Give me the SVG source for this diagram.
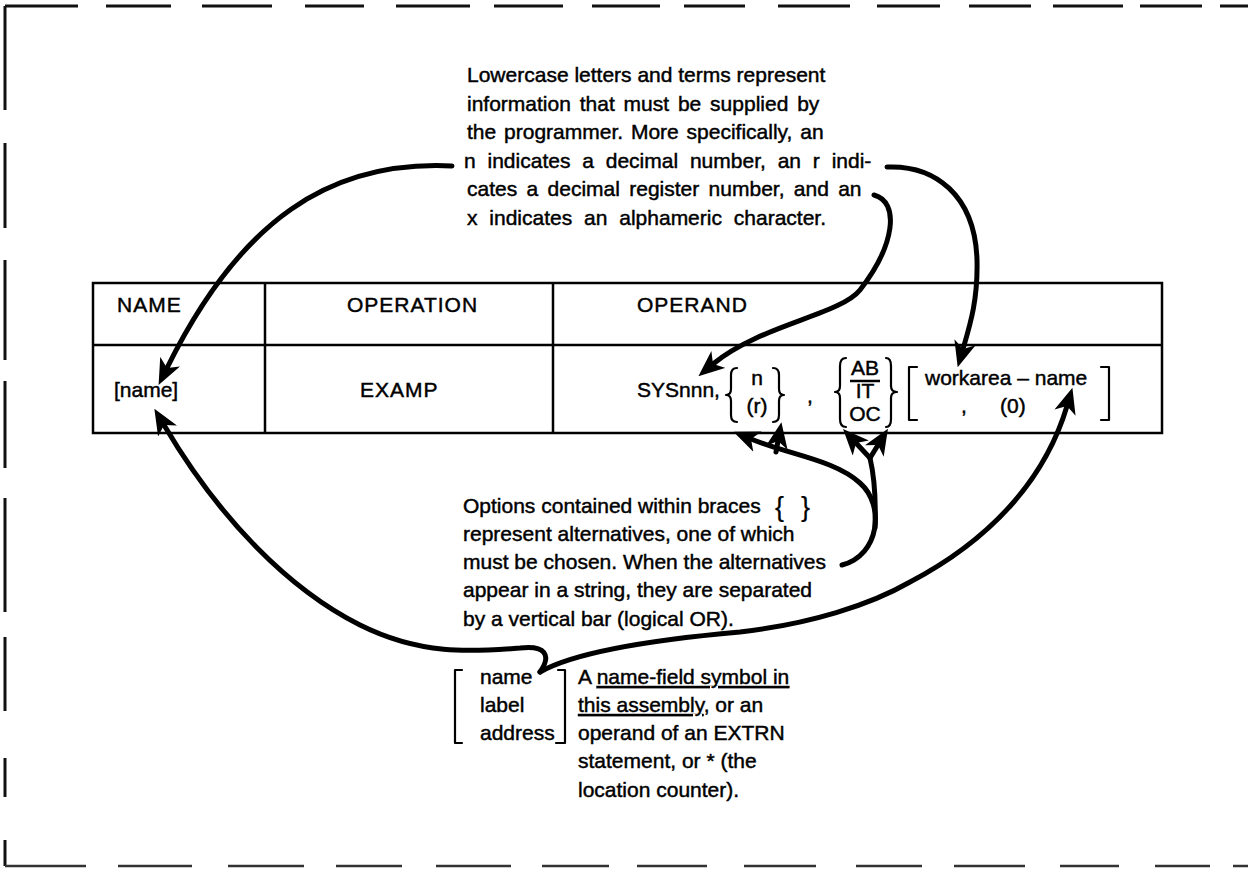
<svg xmlns="http://www.w3.org/2000/svg" width="1248" height="869" viewBox="0 0 1248 869">
  <style>
    .t { font-family: "Liberation Sans", Arial, sans-serif; font-size: 21px; fill: #000; stroke: #000; stroke-width: 0.45px; }
    .hd { letter-spacing: 1px; }
    .mid { text-anchor: middle; }
    .frame { stroke: #111; stroke-width: 3; fill: none; }
    .grid { stroke: #000; stroke-width: 2.5; fill: none; }
    .brace { stroke: #000; stroke-width: 2.2; fill: none; stroke-linecap: round; stroke-linejoin: round; }
    .conn { stroke: #000; stroke-width: 5; fill: none; stroke-linecap: round; }
    .ul { text-decoration: underline; }
  </style>
  <defs>
    <marker id="ah" viewBox="-26 -11 26 22" refX="-19" refY="0" markerWidth="26" markerHeight="22" markerUnits="userSpaceOnUse" orient="auto">
      <path d="M0,0 L-26,-11 L-19,0 L-26,11 Z" fill="#000"/>
    </marker>
  </defs>

  <rect width="1248" height="869" fill="#fff"/>

  <!-- dashed frame -->
  <g id="frame" class="frame">
    <path d="M5,6 H78 M106,6 H171 M202,6 H272 M305,6 H364 M396,6 H470 M494,6 H563 M592,6 H660 M684,6 H745 M778,6 H850 M877,6 H940 M969,6 H1031 M1053,6 H1123 M1140,6 H1202 M1220,6 H1248"/>
    <path d="M5,6 V110 M5,143 V228 M5,260 V360 M5,381 V468 M5,498 V612 M5,637 V711 M5,758 V797 M5,840 V866"/>
    <path stroke="#333" stroke-width="2.5" d="M5,866 H86 M118,866 H192 M228,866 H304 M336,866 H402 M436,866 H511 M542,866 H609 M637,866 H707 M744,866 H816 M856,866 H922 M954,866 H1025 M1060,866 H1119 M1155,866 H1210 M1233,866 H1248"/>
  </g>

  <!-- note on lowercase terms -->
  <g id="note-lowercase" class="t">
    <text x="467" y="82">Lowercase letters and terms represent</text>
    <text x="467" y="111" word-spacing="3">information that must be supplied by</text>
    <text x="467" y="139" word-spacing="2">the programmer.  More specifically, an</text>
    <text x="464" y="168" word-spacing="6">n indicates a decimal number, an r indi-</text>
    <text x="467" y="196" word-spacing="3.5">cates a decimal register number, and an</text>
    <text x="467" y="225" word-spacing="6">x indicates an alphameric character.</text>
  </g>

  <!-- statement format table -->
  <g id="format-table">
    <rect class="grid" x="93" y="283" width="1069" height="150"/>
    <path class="grid" d="M93,345 H1162 M265,283 V433 M553,283 V433"/>
    <g class="t hd">
      <text x="117" y="312">NAME</text>
      <text x="347" y="312">OPERATION</text>
      <text x="637" y="312">OPERAND</text>
    </g>
    <g class="t">
      <text x="114" y="397">[name]</text>
      <text x="360" y="397" class="hd">EXAMP</text>
      <text x="637" y="397">SYSnnn,</text>
    </g>
  </g>

  <!-- operand alternatives -->
  <g id="operand-options">
    <path class="brace" d="M737,368 Q731,368 731,375 L731,389 Q731,395 726,395 Q731,395 731,401 L731,415 Q731,422 737,422"/>
    <text class="t mid" x="757" y="385">n</text>
    <text class="t mid" x="757" y="413">(r)</text>
    <path class="brace" d="M773,368 Q779,368 779,375 L779,389 Q779,395 784,395 Q779,395 779,401 L779,415 Q779,422 773,422"/>
    <text class="t" x="807" y="403">,</text>
    <path class="brace" d="M846,358 Q840,358 840,366 L840,386 Q840,392 835,392 Q840,392 840,398 L840,419 Q840,427 846,427"/>
    <text class="t mid" x="865" y="375">AB</text>
    <path class="grid" stroke-width="2" d="M850,381 H880"/>
    <text class="t mid" x="865" y="398">IT</text>
    <text class="t mid" x="865" y="421">OC</text>
    <path class="brace" d="M886,358 Q891,358 891,366 L891,386 Q891,392 897,392 Q891,392 891,398 L891,419 Q891,427 886,427"/>
    <path class="brace" d="M917,367 H909 V420 H917"/>
    <text class="t" x="925" y="385">workarea – name</text>
    <text class="t" x="961" y="413">,</text>
    <text class="t" x="1000" y="413">(0)</text>
    <path class="brace" d="M1101,367 H1109 V420 H1101"/>
  </g>

  <!-- note on braces -->
  <g id="note-braces" class="t">
    <text x="463" y="513">Options contained within braces</text>
    <text x="775" y="516" font-size="27" stroke-width="0.2">{</text>
    <text x="801" y="516" font-size="27" stroke-width="0.2">}</text>
    <text x="463" y="541">represent alternatives, one of which</text>
    <text x="463" y="569">must be chosen.  When the alternatives</text>
    <text x="463" y="597">appear in a string, they are separated</text>
    <text x="463" y="626">by a vertical bar (logical OR).</text>
  </g>

  <!-- name / label / address -->
  <g id="name-label-address">
    <path class="brace" d="M462,670 H455 V743 H462"/>
    <g class="t">
      <text x="480" y="684">name</text>
      <text x="480" y="712">label</text>
      <text x="480" y="740">address</text>
    </g>
    <path class="brace" d="M558,670 H565 V743 H556"/>
  </g>

  <g id="note-name-field" class="t">
    <text x="578" y="684">A <tspan class="ul">name-field symbol in</tspan></text>
    <text x="578" y="712"><tspan class="ul">this assembly</tspan>, or an</text>
    <text x="578" y="740">operand of an EXTRN</text>
    <text x="578" y="768">statement, or * (the</text>
    <text x="578" y="797">location counter).</text>
  </g>

  <!-- connectors -->
  <g id="connectors" class="conn">
    <path d="M452,166 C330,160 240,220 167,368" marker-end="url(#ah)"/>
    <path d="M887,167 C935,165 975,195 977,260 C978,300 970,325 963,349" marker-end="url(#ah)"/>
    <path d="M874,195 C900,202 895,245 860,290 C840,315 760,325 713,364" marker-end="url(#ah)"/>

    <path d="M842,565 C880,555 885,505 860,483 C835,460 790,455 751,439" marker-end="url(#ah)"/>
    <path d="M776,452 L778,441" marker-end="url(#ah)"/>
    <path d="M875,528 C876,500 874,475 870,458"/>
    <path d="M870,458 L856,443" marker-end="url(#ah)"/>
    <path d="M870,458 L878,445" marker-end="url(#ah)"/>

    <path d="M540,672 C552,655 545,645 520,648 C470,652 420,655 360,625 C290,590 220,520 164,425" marker-end="url(#ah)"/>
    <path d="M540,672 C575,652 650,640 740,632 C810,624 870,605 910,582 C990,540 1045,480 1067,406" marker-end="url(#ah)"/>
  </g>
</svg>
